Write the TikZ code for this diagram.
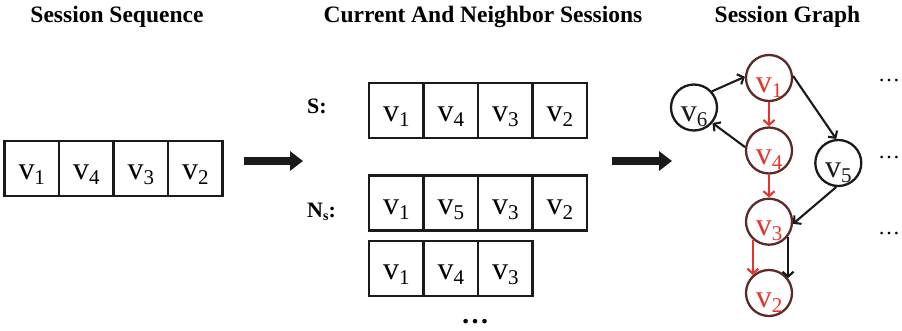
\documentclass[tikz,border=0pt]{standalone}
\usepackage{fontspec}
\setmainfont{Liberation Serif}
\usetikzlibrary{arrows.meta}
\definecolor{ink}{HTML}{1A1A1A}
\definecolor{hotred}{HTML}{E5342B}
\definecolor{rim}{HTML}{5E2A27}
% item label: upright v with a lowered index
\newcommand{\vlab}[1]{{\fontsize{32}{32}\selectfont v}{\fontsize{21}{21}\selectfont\raisebox{-5pt}{#1}}}
\begin{document}
\begin{tikzpicture}[x=1pt,y=-1pt,
  title/.style={font=\fontsize{23.5}{28}\selectfont\bfseries, inner sep=0pt, anchor=base},
  rowlab/.style={font=\fontsize{22}{26}\selectfont\bfseries, inner sep=0pt, anchor=base west},
  cell/.style={draw=ink, line width=2.1pt, rectangle, minimum width=54.5pt,
    minimum height=55pt, inner sep=0pt, text height=27pt, text depth=5pt},
  gnode/.style={circle, draw=ink, line width=2.3pt, minimum size=46pt, inner sep=0pt,
    text height=30pt, text depth=2pt, text=ink},
  hot/.style={gnode, draw=rim, text=hotred},
  edge/.style={draw=ink, line width=2.1pt, -{Straight Barb[length=5pt,width=11pt]}},
  redge/.style={edge, draw=hotred},
  bigarrow/.style={draw=ink, line width=8pt, -{Triangle[length=13pt,width=19pt]}},
  dots/.style={inner sep=0pt, anchor=base}
]
\useasboundingbox (0,0) rectangle (902,330);

% column titles
\node[title] (t1) at (117,22) {Session Sequence};
\node[title] (t2) at (483,22) {Current And Neighbor Sessions};
\node[title] (t3) at (787.5,22) {Session Graph};

% session sequence
\node[cell] (s1) at (31.75,168.5) {\vlab{1}};
\node[cell] (s2) at (86.25,168.5) {\vlab{4}};
\node[cell] (s3) at (140.75,168.5) {\vlab{3}};
\node[cell] (s4) at (195.25,168.5) {\vlab{2}};

% current session
\node[rowlab] (lS) at (307,113) {S:};
\node[cell] (a1) at (396.25,110.5) {\vlab{1}};
\node[cell] (a2) at (450.75,110.5) {\vlab{4}};
\node[cell] (a3) at (505.25,110.5) {\vlab{3}};
\node[cell] (a4) at (559.75,110.5) {\vlab{2}};

% neighbor sessions
\node[rowlab] (lN) at (307,217) {N{\fontsize{14}{14}\selectfont\raisebox{-3pt}{s}}:};
\node[cell] (b1) at (396.25,203) {\vlab{1}};
\node[cell] (b2) at (450.75,203) {\vlab{5}};
\node[cell] (b3) at (505.25,203) {\vlab{3}};
\node[cell] (b4) at (559.75,203) {\vlab{2}};

\node[cell] (c1) at (396.25,268.5) {\vlab{1}};
\node[cell] (c2) at (450.75,268.5) {\vlab{4}};
\node[cell] (c3) at (505.25,268.5) {\vlab{3}};
\node[dots] (more) at (475,323) {\fontsize{28}{28}\selectfont\bfseries\ldots};

% transition arrows
\coordinate (p1) at (244,161);
\coordinate (p2) at (303,161);
\coordinate (q1) at (612,161);
\coordinate (q2) at (672,161);
\draw[bigarrow] (p1) -- (p2);
\draw[bigarrow] (q1) -- (q2);

% session graph
\node[hot]   (g1) at (769,78)    {\vlab{1}};
\node[hot]   (g4) at (769,150.5) {\vlab{4}};
\node[hot]   (g3) at (769,221.7) {\vlab{3}};
\node[hot]   (g2) at (769,293)   {\vlab{2}};
\node[gnode] (g6) at (694,107.5) {\vlab{6}};
\node[gnode] (g5) at (838.3,163) {\vlab{5}};

\draw[edge]  (g6.42)  -- (g1.177);
\draw[edge]  (g4.172) -- (g6.-40);
\draw[edge]  (g1.5)   -- (g5.95);
\draw[edge]  (g5.-95) -- (g3.-5);
\draw[redge] (g1.south) -- (g4.north);
\draw[redge] (g4.south) -- (g3.north);
\draw[redge] (g3.228) -- (g2.132);
\draw[edge]  (g3.-38) -- (g2.38);

% further graphs
\node[dots] (e1) at (889,81.5)  {\fontsize{22}{22}\selectfont\ldots};
\node[dots] (e2) at (889,158.5) {\fontsize{22}{22}\selectfont\ldots};
\node[dots] (e3) at (889,234.5) {\fontsize{22}{22}\selectfont\ldots};
\end{tikzpicture}
\end{document}
